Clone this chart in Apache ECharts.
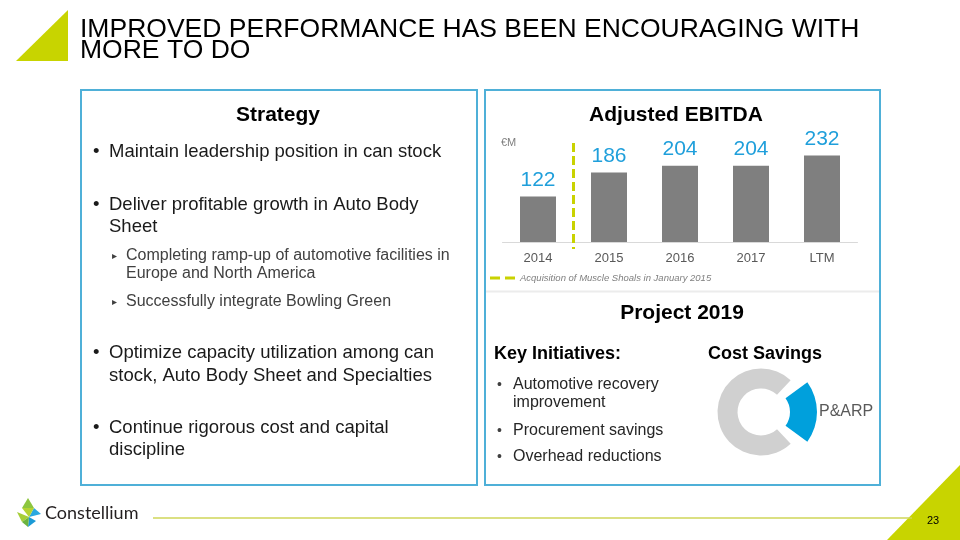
<!DOCTYPE html>
<html><head><meta charset="utf-8">
<script src="https://cdn.jsdelivr.net/npm/echarts@6/dist/echarts.min.js"></script>
<style>html,body{margin:0;padding:0;background:#fff}#c{width:960px;height:540px}</style>
</head><body><div id="c"></div><script>
// ---- data ----
const categories = ['2014', '2015', '2016', '2017', 'LTM'];
const ebitda = [122, 186, 204, 204, 232];
const acquisitionLabel = 'Acquisition of Muscle Shoals in January 2015';
const acquisitionAt = [0.5, 0.5];          // between 2014 and 2015 (category index units)
const acquisitionSpan = [265, -19];        // vertical extent in €M units
const costNames = ['P&ARP', 'Other'];
const costShares = [25, 75];

const FONT = '"Liberation Sans", Arial, sans-serif';
const chart = echarts.init(document.getElementById('c'));

function T(text, x, y, size, o) {
  o = o || {};
  const el = {
    type: 'text', x: x, y: y, z: 100,
    style: {
      text: text,
      fill: o.color || '#1a1a1a',
      font: (o.italic ? 'italic ' : '') + (o.bold ? 'bold ' : '') + size + 'px ' + (o.family || FONT),
      align: o.align || 'left',
      verticalAlign: 'middle'
    }
  };
  if (o.scaleX) el.scaleX = o.scaleX;
  return el;
}

const graphics = [
  // decorations
  { type: 'polygon', shape: { points: [[16, 61], [68, 10], [68, 61]] }, style: { fill: '#c8d400' } },
  { type: 'polygon', shape: { points: [[960, 465], [887, 540], [960, 540]] }, style: { fill: '#c8d400' } },
  { type: 'line', shape: { x1: 153, y1: 518, x2: 912, y2: 518 }, style: { stroke: '#cfd659', lineWidth: 1.5 } },
  { type: 'rect', shape: { x: 81, y: 90, width: 396, height: 395 }, style: { fill: 'none', stroke: '#4fb0d8', lineWidth: 2 } },
  { type: 'rect', shape: { x: 485, y: 90, width: 395, height: 395 }, style: { fill: 'none', stroke: '#4fb0d8', lineWidth: 2 } },
  { type: 'line', shape: { x1: 486, y1: 291.5, x2: 879, y2: 291.5 }, style: { stroke: '#ececec', lineWidth: 2 } },
  // logo
  { type: 'polygon', shape: { points: [[28, 498], [22, 508], [34, 508]] }, style: { fill: '#8dc63f' } },
  { type: 'polygon', shape: { points: [[34, 508], [41, 514], [29, 517]] }, style: { fill: '#29a8e0' } },
  { type: 'polygon', shape: { points: [[22, 508], [34, 508], [29, 517]] }, style: { fill: '#b5d334' } },
  { type: 'polygon', shape: { points: [[17, 512], [29, 517], [22, 522]] }, style: { fill: '#a6ce39' } },
  { type: 'polygon', shape: { points: [[29, 517], [36, 521], [28, 527]] }, style: { fill: '#1b9ad6' } },
  { type: 'polygon', shape: { points: [[22, 522], [29, 517], [28, 527]] }, style: { fill: '#6cb33f' } },
  T('Constellium', 45, 513, 18, { color: '#231f20', family: 'Lato, "Open Sans", sans-serif' }),
  T('23', 933, 521, 11, { color: '#000', align: 'center' }),
  // title
  T('IMPROVED PERFORMANCE HAS BEEN ENCOURAGING WITH', 80, 30, 26, { color: '#000', scaleX: 1.02 }),
  T('MORE TO DO', 80, 50.5, 26, { color: '#000', scaleX: 1.02 }),
  // left panel
  T('Strategy', 278, 115, 21, { bold: true, align: 'center', color: '#000' }),
  T('•', 93, 152, 18.5), T('Maintain leadership position in can stock', 109, 152, 18.5),
  T('•', 93, 205, 18.5), T('Deliver profitable growth in Auto Body', 109, 205, 18.5),
  T('Sheet', 109, 227, 18.5),
  T('▸', 112, 256, 10, { color: '#404040' }), T('Completing ramp-up of automotive facilities in', 126, 256, 16, { color: '#404040' }),
  T('Europe and North America', 126, 274, 16, { color: '#404040' }),
  T('▸', 112, 302, 10, { color: '#404040' }), T('Successfully integrate Bowling Green', 126, 302, 16, { color: '#404040' }),
  T('•', 93, 353, 18.5), T('Optimize capacity utilization among can', 109, 353, 18.5),
  T('stock, Auto Body Sheet and Specialties', 109, 376, 18.5),
  T('•', 93, 428, 18.5), T('Continue rigorous cost and capital', 109, 428, 18.5),
  T('discipline', 109, 450, 18.5),
  // right panel
  T('Adjusted EBITDA', 676, 115, 21, { bold: true, align: 'center', color: '#000' }),
  T('€M', 501, 143, 11, { color: '#7f7f7f' }),
  T('Project 2019', 682, 313, 21, { bold: true, align: 'center', color: '#000' }),
  T('Key Initiatives:', 494, 354, 18, { bold: true, color: '#000' }),
  T('•', 497, 385, 14, { color: '#404040' }), T('Automotive recovery', 513, 385, 16, { color: '#262626' }),
  T('improvement', 513, 403, 16, { color: '#262626' }),
  T('•', 497, 431, 14, { color: '#404040' }), T('Procurement savings', 513, 431, 16, { color: '#262626' }),
  T('•', 497, 457, 14, { color: '#404040' }), T('Overhead reductions', 513, 457, 16, { color: '#262626' }),
  T('Cost Savings', 765, 354, 18, { bold: true, align: 'center', color: '#000' })
];

const option = {
  animation: false,
  backgroundColor: '#ffffff',
  textStyle: { fontFamily: FONT },
  grid: { left: 502.5, top: 130, width: 355, height: 112 },
  legend: {
    data: [{ name: acquisitionLabel, icon: 'path://M0,0H10V3H0Z M15,0H25V3H15Z' }],
    left: 490, top: 273, itemWidth: 25, itemHeight: 3, padding: 0,
    itemStyle: { color: '#c9d200', borderWidth: 0 },
    textStyle: { color: '#7f7f7f', fontSize: 9.5, fontStyle: 'italic', fontFamily: FONT },
    selectedMode: false
  },
  xAxis: [
    {
      type: 'category', data: categories,
      axisLine: { lineStyle: { color: '#d9d9d9', width: 1 } },
      axisTick: { show: false },
      axisLabel: { color: '#595959', fontSize: 13, margin: 10, fontFamily: FONT },
      splitLine: { show: false }
    },
    { type: 'value', min: -0.5, max: 4.5, show: false }
  ],
  yAxis: [{ type: 'value', min: 0, max: 300, show: false }],
  series: [
    {
      type: 'bar', data: ebitda, barWidth: 36,
      itemStyle: { color: '#7f7f7f' },
      label: { show: true, position: 'top', distance: 6, color: '#1f9fdb', fontSize: 21, fontFamily: FONT }
    },
    {
      type: 'line', name: acquisitionLabel, xAxisIndex: 1, yAxisIndex: 0,
      data: acquisitionAt.map((x, i) => [x, acquisitionSpan[i]]),
      symbol: 'none', clip: false, silent: true,
      lineStyle: { color: '#c9d200', width: 3, type: [9, 4] },
      itemStyle: { color: '#c9d200' }
    },
    {
      type: 'pie', center: [761, 412], radius: [23.5, 43.5], startAngle: 45, padAngle: 4,
      silent: true, label: { show: false }, labelLine: { show: false },
      data: costNames.map((n, i) => ({
        name: n, value: costShares[i],
        itemStyle: { color: i === 0 ? 'rgba(0,0,0,0)' : '#d0d0d0' }
      }))
    },
    {
      type: 'pie', center: [766.5, 412], radius: [23.5, 50.5], startAngle: 36, endAngle: -252,
      silent: true, avoidLabelOverlap: false,
      labelLine: { show: false, length: 0, length2: 0 },
      data: costNames.map((n, i) => ({
        name: n, value: costShares[i],
        itemStyle: { color: i === 0 ? '#00a0dc' : 'rgba(0,0,0,0)' },
        label: i === 0
          ? { show: true, position: 'outside', color: '#595959', fontSize: 16, fontFamily: FONT, distanceToLabelLine: 2 }
          : { show: false }
      }))
    }
  ],
  graphic: graphics
};
chart.setOption(option);
</script></body></html>
